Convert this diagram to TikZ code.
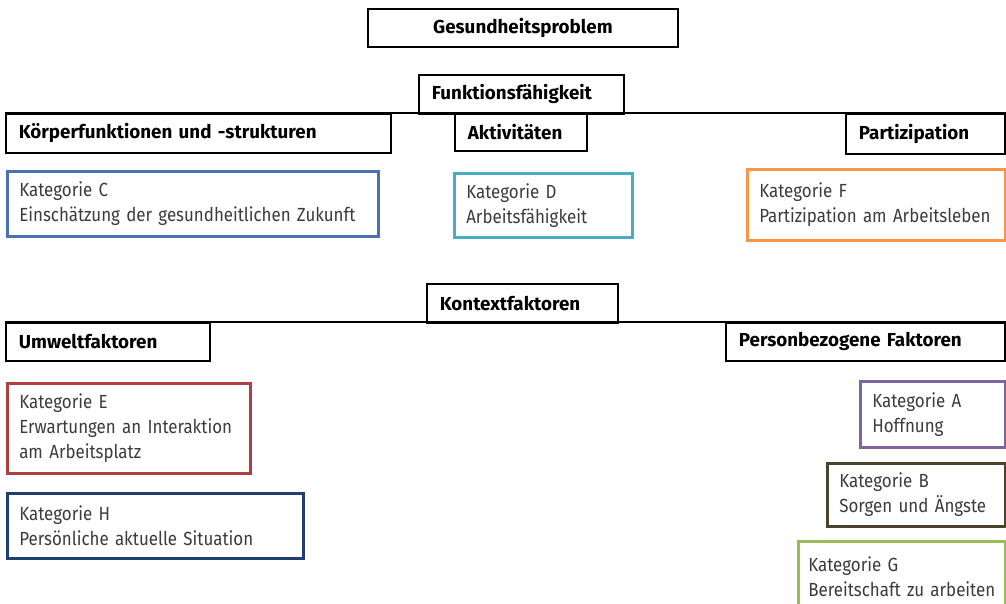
\documentclass[tikz,border=0pt]{standalone}
\usepackage{fontspec}
\usetikzlibrary{shadows}
\setmainfont{Fira Sans}[FakeStretch=0.89]
\newfontfamily\headfont{Fira Sans}
\definecolor{textgray}{HTML}{3C3C3C}
\definecolor{catC}{HTML}{4A72B0}
\definecolor{catD}{HTML}{4BACC6}
\definecolor{catF}{HTML}{F79646}
\definecolor{catE}{HTML}{B0403F}
\definecolor{catH}{HTML}{1F3F6E}
\definecolor{catA}{HTML}{8064A2}
\definecolor{catB}{HTML}{4A452A}
\definecolor{catG}{HTML}{9BBB59}
\begin{document}
\begin{tikzpicture}[x=1pt,y=-1pt,
  head/.style={draw=black, fill=white, line width=1.8pt, rectangle, anchor=north west,
    inner xsep=13pt, inner ysep=0pt, align=left, text=black,
    drop shadow={shadow xshift=1.3pt, shadow yshift=-1.3pt, fill=black!40, opacity=0.8},
    font=\headfont\bfseries\fontsize{18.8}{22}\selectfont},
  cat/.style={draw=#1, fill=white, line width=2.6pt, rectangle, anchor=north west,
    inner xsep=12pt, inner ysep=0pt, align=left, text=textgray,
    font=\fontsize{19}{25}\selectfont},
  link/.style={draw=black, line width=1.8pt},
]
\clip (0,0) rectangle (1006,603);

% Gesundheitsproblem
\node[head, align=center, text width=284pt, minimum height=38pt] (ges) at (367,8) {Gesundheitsproblem};

% Funktionsfaehigkeit and its three components
\node[head, text width=179pt, minimum height=39pt] (funk) at (418,74) {Funktionsfähigkeit};
\node[head, text width=359pt, minimum height=39pt] (koerper) at (5,113) {Körperfunktionen und -strukturen};
\node[head, text width=106pt, minimum height=37pt] (aktiv) at (454,113) {Aktivitäten};
\node[head, text width=133pt, minimum height=40pt] (partiz) at (845,113) {Partizipation};
\draw[link] (koerper.north west) -- (partiz.north east);

\node[cat=catC, text width=347pt, minimum height=65pt] (katC) at (6,170)
  {Kategorie C\\Einschätzung der gesundheitlichen Zukunft};
\node[cat=catD, text width=154pt, minimum height=64pt] (katD) at (453,172)
  {Kategorie D\\Arbeitsfähigkeit};
\node[cat=catF, text width=234pt, minimum height=71pt] (katF) at (746,168)
  {Kategorie F\\Partizipation am Arbeitsleben};

% Kontextfaktoren and its two components
\node[head, text width=165pt, minimum height=39pt] (kontext) at (426,283) {Kontextfaktoren};
\node[head, text width=178pt, minimum height=38pt] (umwelt) at (5,322) {Umweltfaktoren};
\node[head, text width=253pt, minimum height=38pt] (person) at (725,322) {Personbezogene Faktoren};
\draw[link] (umwelt.north west) -- (person.north east);

\node[cat=catE, text width=219pt, minimum height=90pt] (katE) at (6,382)
  {Kategorie E\\Erwartungen an Interaktion\\am Arbeitsplatz};
\node[cat=catH, text width=272pt, minimum height=65pt] (katH) at (6,492)
  {Kategorie H\\Persönliche aktuelle Situation};
\node[cat=catA, text width=121pt, minimum height=66pt] (katA) at (859,380)
  {Kategorie A\\Hoffnung};
\node[cat=catB, text width=154pt, minimum height=63pt] (katB) at (826,462)
  {Kategorie B\\Sorgen und Ängste};
\node[cat=catG, inner xsep=10pt, text width=187pt, minimum height=70pt] (katG) at (797,540)
  {Kategorie G\\Bereitschaft zu arbeiten};
\end{tikzpicture}
\end{document}
